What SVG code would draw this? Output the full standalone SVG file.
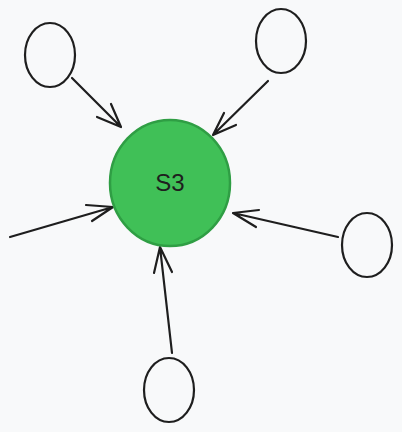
<svg xmlns="http://www.w3.org/2000/svg" width="402" height="432" viewBox="0 0 402 432">
<style>
.n{fill:none;stroke:#1e1e1e;stroke-width:2.2}
.c{stroke:#1e1e1e;stroke-width:2.2;fill:none;stroke-linecap:round;stroke-linejoin:round}
.lbl{font-family:"Liberation Sans",Arial,sans-serif;font-size:24px;fill:#1e1e1e;text-anchor:middle;dominant-baseline:central}
</style>
<rect width="402" height="432" fill="#f8f9fa"/>
<g id="connectors">
<path class="c" d="M72,78 L121,127 M97,117 L121,127 L111,104"/>
<path class="c" d="M268,81 L213,135 M224,113 L213,135 L236,125"/>
<path class="c" d="M10,237 L113,207 M86,205 L113,207 L92,221"/>
<path class="c" d="M338,237 L233,213 M259,210 L233,213 L256,227"/>
<path class="c" d="M172,353 L160,247 M154,273 L160,247 L172,272"/>
</g>
<g id="s3">
<ellipse cx="170" cy="183" rx="60" ry="63" fill="#40c057" stroke="#2f9e44" stroke-width="2.5"/>
<text class="lbl" x="170" y="182">S3</text>
</g>
<g id="n1"><ellipse class="n" cx="50" cy="55" rx="25" ry="32"/></g>
<g id="n2"><ellipse class="n" cx="281" cy="41" rx="25" ry="32"/></g>
<g id="n3"><ellipse class="n" cx="367" cy="245" rx="25" ry="32"/></g>
<g id="n4"><ellipse class="n" cx="169" cy="390" rx="25" ry="32"/></g>
</svg>
